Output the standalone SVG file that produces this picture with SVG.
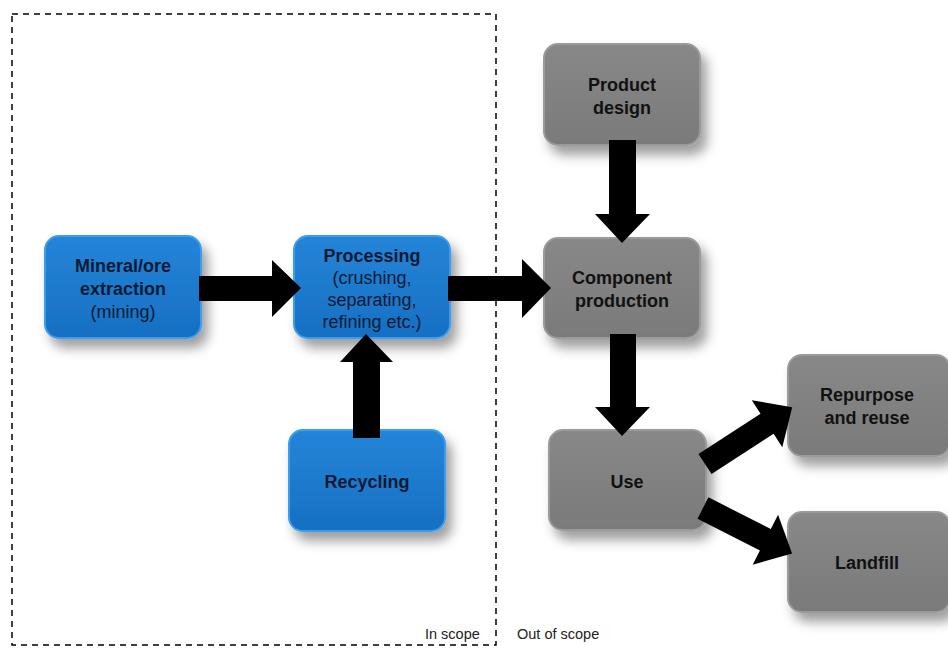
<svg xmlns="http://www.w3.org/2000/svg" width="948" height="648" viewBox="0 0 948 648">
<defs>
<filter id="sh" x="-20%" y="-20%" width="150%" height="160%">
<feDropShadow dx="6" dy="9" stdDeviation="6" flood-color="#000" flood-opacity="0.38"/>
</filter>
<linearGradient id="blue" x1="0" y1="0" x2="0" y2="1">
<stop offset="0" stop-color="#2585d8"/>
<stop offset="1" stop-color="#166fc2"/>
</linearGradient>
<linearGradient id="gray" x1="0" y1="0" x2="0" y2="1">
<stop offset="0" stop-color="#888"/>
<stop offset="1" stop-color="#7a7a7a"/>
</linearGradient>
</defs>
<style>
.b{fill:url(#blue);stroke:#3a9cf0;stroke-width:2;filter:url(#sh)}
.g{fill:url(#gray);stroke:#9a9a9a;stroke-width:2;filter:url(#sh)}
.t{font-family:"Liberation Sans",Arial,sans-serif;font-size:18px;font-weight:bold;text-anchor:middle}
.tb{fill:#0b1a33}
.tg{fill:#111}
.n{font-weight:normal}
.arr{fill:#000}
.lab{font-family:"Liberation Sans",Arial,sans-serif;font-size:14.5px;fill:#222}
</style>
<rect width="948" height="648" fill="#fff"/>
<rect x="12" y="14" width="484" height="631" fill="none" stroke="#000" stroke-width="1.5" stroke-dasharray="6,5"/>
<text class="lab" x="425" y="639">In scope</text>
<text class="lab" x="517" y="639">Out of scope</text>

<g id="extraction">
<rect class="b" x="45" y="236" width="156" height="102" rx="14"/>
<text class="t tb" x="123" y="272">Mineral/ore</text>
<text class="t tb" x="123" y="295">extraction</text>
<text class="t tb n" x="123" y="318">(mining)</text>
</g>
<g id="processing">
<rect class="b" x="294" y="236" width="156" height="102" rx="14"/>
<text class="t tb" x="372" y="262">Processing</text>
<text class="t tb n" x="372" y="284">(crushing,</text>
<text class="t tb n" x="372" y="306">separating,</text>
<text class="t tb n" x="372" y="328">refining etc.)</text>
</g>
<g id="recycling">
<rect class="b" x="289" y="430" width="156" height="101" rx="14"/>
<text class="t tb" x="367" y="488">Recycling</text>
</g>
<g id="product-design">
<rect class="g" x="544" y="44" width="156" height="101" rx="14"/>
<text class="t tg" x="622" y="91">Product</text>
<text class="t tg" x="622" y="114">design</text>
</g>
<g id="component-production">
<rect class="g" x="544" y="238" width="156" height="100" rx="14"/>
<text class="t tg" x="622" y="284">Component</text>
<text class="t tg" x="622" y="307">production</text>
</g>
<g id="use">
<rect class="g" x="549" y="430" width="157" height="100" rx="14"/>
<text class="t tg" x="627" y="488">Use</text>
</g>
<g id="repurpose">
<rect class="g" x="788" y="355" width="162" height="101" rx="14"/>
<text class="t tg" x="867" y="401">Repurpose</text>
<text class="t tg" x="867" y="424">and reuse</text>
</g>
<g id="landfill">
<rect class="g" x="788" y="512" width="162" height="100" rx="14"/>
<text class="t tg" x="867" y="569">Landfill</text>
</g>

<g id="connectors">
<path class="arr" d="M199,276 L272,276 L272,260 L301,288 L272,317 L272,301 L199,301 Z"/>
<path class="arr" d="M448,276 L522,276 L522,259 L551,288 L522,318 L522,301 L448,301 Z"/>
<path class="arr" d="M353,438 L353,362 L340,362 L366,334 L393,362 L380,362 L380,438 Z"/>
<path class="arr" d="M609,140 L609,214 L595,214 L622,243 L650,214 L636,214 L636,140 Z"/>
<path class="arr" d="M610,334 L610,407 L595,407 L622,436 L650,407 L636,407 L636,334 Z"/>
<path class="arr" transform="translate(705,464) rotate(-33)" d="M0,-12 L74,-12 L74,-28 L104,0 L74,28 L74,12 L0,12 Z"/>
<path class="arr" transform="translate(703,508) rotate(27)" d="M0,-12 L70,-12 L70,-28 L100,0 L70,28 L70,12 L0,12 Z"/>
</g>
</svg>
